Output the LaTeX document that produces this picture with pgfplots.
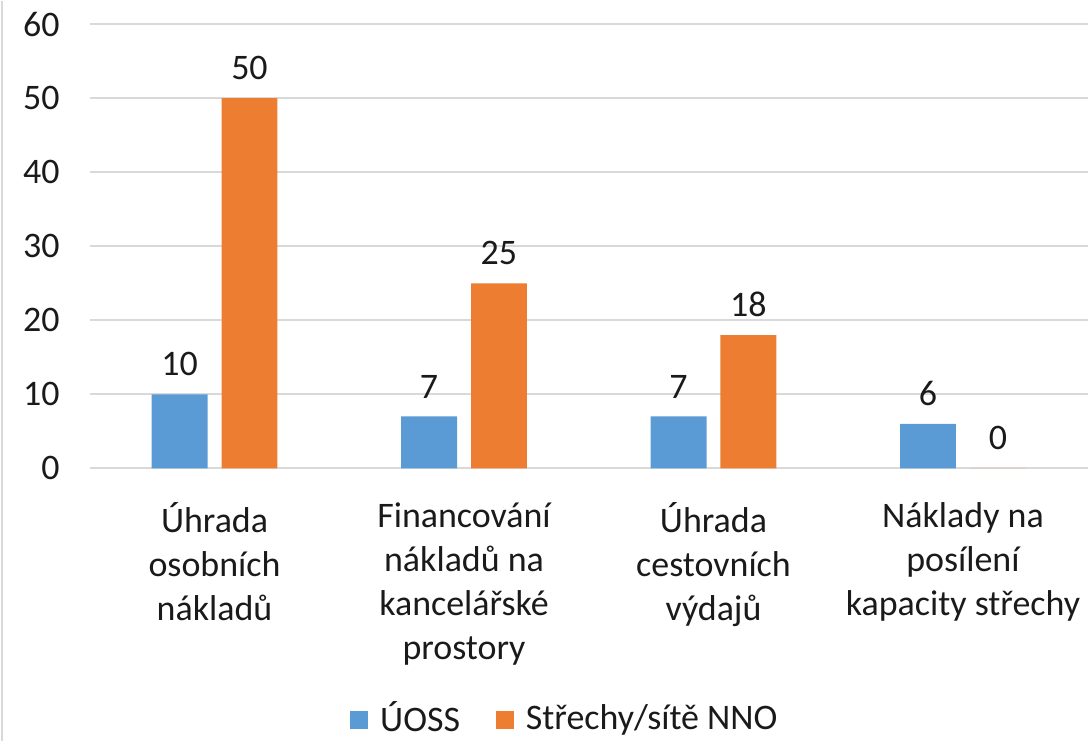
\documentclass[border=0pt]{standalone}
\usepackage{fontspec}
\setmainfont{Carlito}
\usepackage{pgfplots}
\pgfplotsset{compat=1.18}
\definecolor{cblue}{HTML}{5B9BD5}
\definecolor{corange}{HTML}{ED7D31}
\definecolor{cgrid}{HTML}{D9D9D9}
\definecolor{ctext}{HTML}{1A1A1A}
\begin{document}
\fontsize{18}{22}\selectfont
\begin{tikzpicture}
\begin{axis}[
  name=ax,
  scale only axis, width=500pt, height=222.5pt,
  xmin=-0.5, xmax=3.5, ymin=0, ymax=60,
  ytick={0,10,20,30,40,50,60},
  xtick={0,1,2,3},
  xticklabels={{Úhrada\\osobních\\nákladů},{Financování\\nákladů na\\kancelářské\\prostory},{Úhrada\\cestovních\\výdajů},{Náklady na\\posílení\\kapacity střechy}},
  xticklabel style={align=center, anchor=north, yshift=-11pt, text=ctext},
  yticklabel style={xshift=-9pt, text=ctext},
  /pgf/number format/assume math mode=true,
  axis line style={draw=none},
  major tick length=0pt,
  ymajorgrids, grid style={cgrid, line width=1pt},
  ybar=7pt, bar width=28pt,
  nodes near coords,
  nodes near coords style={text=ctext, yshift=3pt},
  legend columns=2,
  legend style={draw=none, at={(0.477,-0.566)}, anchor=center, fill=none,
    /tikz/every odd column/.append style={column sep=4pt},
    /tikz/every even column/.append style={column sep=16pt},
    text=ctext},
  legend image code/.code={\path[#1, draw=none] (0pt,-4.5pt) rectangle (9pt,4.5pt);},
]
\addplot[fill=cblue, draw=none] coordinates {(0,10) (1,7) (2,7) (3,6)};
\addplot[fill=corange, draw=none] coordinates {(0,50) (1,25) (2,18) (3,0)};
\legend{ÚOSS, Střechy/sítě NNO}
\end{axis}
\path ([shift={(-45pt,-136.5pt)}]ax.south west) rectangle ([shift={(1pt,11.5pt)}]ax.north east);
\draw[cgrid, line width=1pt] ([shift={(-44pt,-136.5pt)}]ax.south west) -- ([shift={(-44pt,11.5pt)}]ax.north west);
\end{tikzpicture}
\end{document}
